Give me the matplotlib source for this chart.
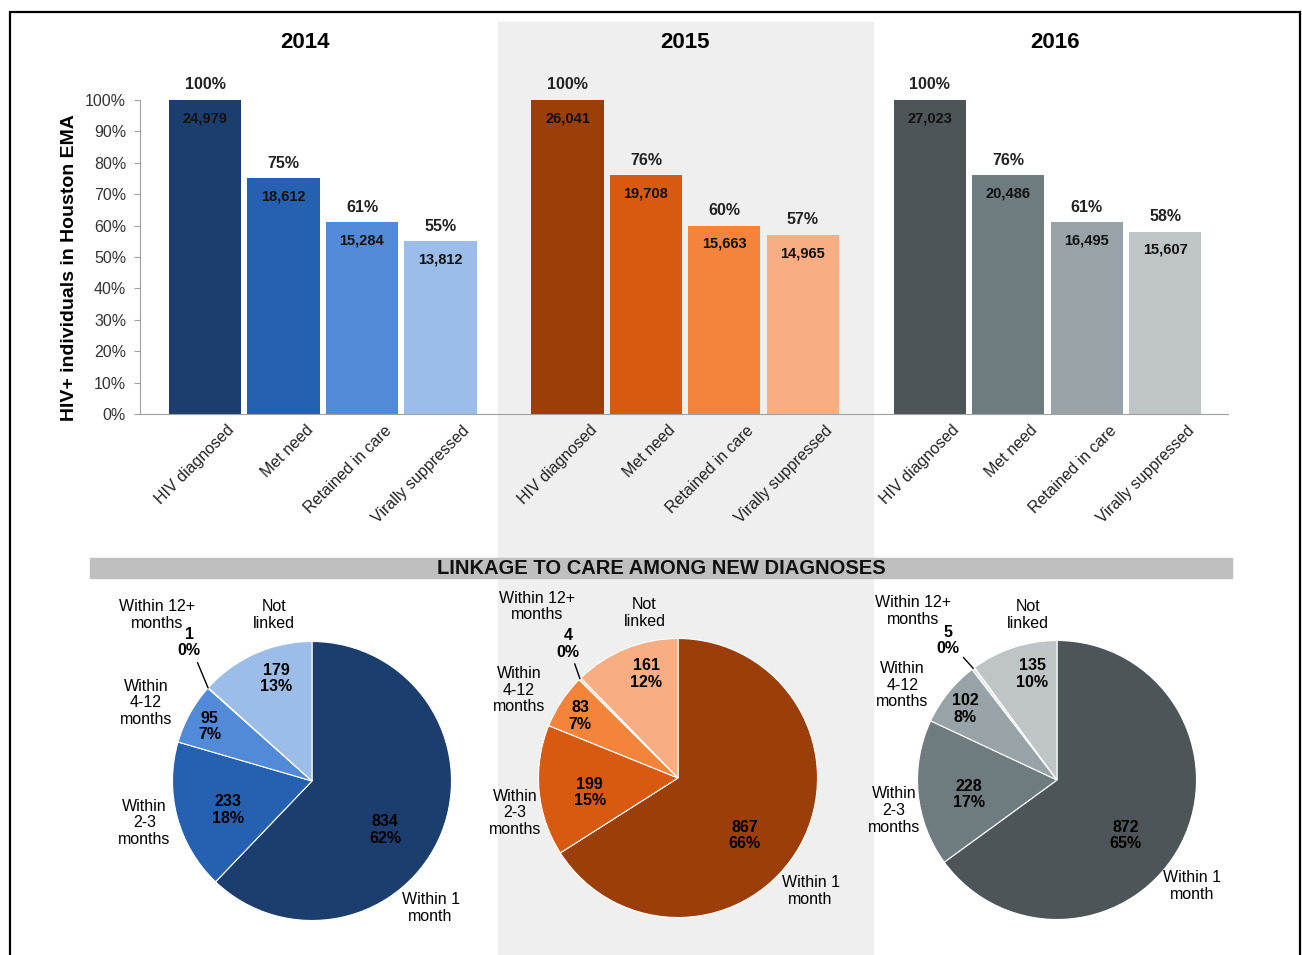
import numpy as np
import matplotlib
matplotlib.use("Agg")
import matplotlib.pyplot as plt
from matplotlib.patches import Rectangle
import matplotlib.transforms as mtransforms

plt.rcParams['font.family'] = ['Liberation Sans', 'DejaVu Sans']

# ---- data ----
years = ["2014", "2015", "2016"]
stages = ["HIV diagnosed", "Met need", "Retained in care", "Virally suppressed"]
pct_2014 = [100, 75, 61, 55]
pct_2015 = [100, 76, 60, 57]
pct_2016 = [100, 76, 61, 58]
n_2014 = [24979, 18612, 15284, 13812]
n_2015 = [26041, 19708, 15663, 14965]
n_2016 = [27023, 20486, 16495, 15607]

link_cats = ["Within 1\nmonth", "Within\n2-3\nmonths", "Within\n4-12\nmonths",
             "Within 12+\nmonths", "Not\nlinked"]
link_2014 = [834, 233, 95, 1, 179]
link_2015 = [867, 199, 83, 4, 161]
link_2016 = [872, 228, 102, 5, 135]
linkpct_2014 = [62, 18, 7, 0, 13]
linkpct_2015 = [66, 15, 7, 0, 12]
linkpct_2016 = [65, 17, 8, 0, 10]

bar_colors = [["#1b3e6f", "#2561b0", "#518bd8", "#9dbde9"],
              ["#9c3e0a", "#d75a10", "#f4843c", "#f8ae82"],
              ["#4d5558", "#6e7c80", "#97a3a6", "#bfc5c7"]]
pie_colors = [["#1b3e6f", "#2561b0", "#518bd8", "#d6e3f5", "#9dbde9"],
              ["#9c3e0a", "#d75a10", "#f4843c", "#fbd9c3", "#f8ae82"],
              ["#4d5558", "#6e7c80", "#97a3a6", "#e2e6e7", "#bfc5c7"]]

pcts = [pct_2014, pct_2015, pct_2016]
counts = [n_2014, n_2015, n_2016]
links = [link_2014, link_2015, link_2016]
linkpcts = [linkpct_2014, linkpct_2015, linkpct_2016]

W, H = 1302, 955
fig = plt.figure(figsize=(W / 100, H / 100), dpi=100)

def fx(px):
    return px / W

def fy(py):
    return 1 - py / H

# background pieces
fig.patches.append(Rectangle((fx(498), fy(960)), fx(873) - fx(498), fy(22) - fy(960),
                             transform=fig.transFigure, color="#efefef", zorder=-10))
fig.patches.append(Rectangle((fx(10), fy(965)), fx(1300) - fx(10), fy(12) - fy(965),
                             transform=fig.transFigure, fill=False, ec="black", lw=1.6, zorder=-9))
fig.patches.append(Rectangle((fx(90), fy(578)), fx(1232) - fx(90), fy(558) - fy(578),
                             transform=fig.transFigure, color="#bfbfbf", zorder=-8))
fig.text(fx(661), fy(568), "LINKAGE TO CARE AMONG NEW DIAGNOSES", ha="center", va="center",
         fontsize=14.5, fontweight="bold", color="#111111", zorder=5)

# ---- bar chart ----
ax = fig.add_axes([fx(140), fy(414), fx(1228) - fx(140), fy(100) - fy(414)])
ax.set_zorder(2)
ax.patch.set_alpha(0)
gap = 4.62
offset = mtransforms.ScaledTranslation(0.27, -0.14, fig.dpi_scale_trans)
xs_all = []
for g in range(3):
    xs = [g * gap + i for i in range(4)]
    h = [p / 100 for p in pcts[g]]
    bars = ax.bar(xs, h, width=0.92, color=bar_colors[g], zorder=2)
    for b, p, n in zip(bars, pcts[g], counts[g]):
        cx = b.get_x() + b.get_width() / 2
        ax.annotate(f"{p}%", (cx, b.get_height()), xytext=(0, 11), textcoords="offset points",
                    ha="center", va="center", fontsize=11.5, fontweight="bold",
                    color="#222222", annotation_clip=False)
        ax.annotate(f"{n:,}", (cx, b.get_height()), xytext=(0, -13), textcoords="offset points",
                    ha="center", va="center", fontsize=10.5, fontweight="bold", color="#111111")
    for x, lab in zip(xs, stages):
        ax.text(x, 0, lab, rotation=45, ha="right", va="center", rotation_mode="anchor",
                fontsize=11.5, color="#222222",
                transform=ax.get_xaxis_transform() + offset, clip_on=False)
    xs_all += xs
    fig.text(fx([305, 685, 1055][g]), fy(42), years[g], ha="center", va="center",
             fontsize=16, fontweight="bold")

ax.set_xlim(-0.83, 2 * gap + 3 + 0.8)
ax.set_ylim(0, 1)
ax.set_yticks(np.arange(0, 1.01, 0.1))
ax.set_yticklabels([f"{int(round(v * 100))}%" for v in np.arange(0, 1.01, 0.1)], fontsize=11.5,
                   color="#333333")
ax.set_xticks(xs_all)
ax.set_xticklabels([])
ax.tick_params(axis="x", length=0)
ax.tick_params(axis="y", length=4, color="#a0a0a0", pad=6)
for s in ["top", "right"]:
    ax.spines[s].set_visible(False)
for s in ["left", "bottom"]:
    ax.spines[s].set_color("#a0a0a0")
ax.set_ylabel("HIV+ individuals in Houston EMA", fontsize=14, fontweight="bold")
ax.yaxis.set_label_coords((78 - 140) / 1088, (414 - 268) / 314)

# ---- pies ----
centers = [(312, 781), (678, 778), (1057, 780)]
R = 139.5
L = 1.45
in_r = [0.63, 0.64, 0.83, None, 0.78]
in_nudge = [-12, 4, 1, 0, -5]
# outside label layout (in pie radii), one row per pie
out_pos = [[(0.85, -0.91), (-1.20, -0.30), (-1.19, 0.56), (-1.11, 1.19), (-0.27, 1.19)],
           [(0.95, -0.81), (-1.17, -0.25), (-1.14, 0.63), (-1.01, 1.23), (-0.24, 1.18)],
           [(0.97, -0.76), (-1.17, -0.22), (-1.11, 0.68), (-1.03, 1.21), (-0.21, 1.18)]]
small_pos = [(-0.88, 0.99), (-0.79, 0.96), (-0.78, 1.0)]

for g in range(3):
    cx, cy = centers[g]
    s = 2 * L * R
    pax = fig.add_axes([fx(cx - s / 2), fy(cy + s / 2), s / W, s / H])
    pax.set_zorder(2)
    pax.patch.set_alpha(0)
    vals = links[g]
    wedges, _ = pax.pie(vals, colors=pie_colors[g], startangle=90, counterclock=False,
                        radius=1, wedgeprops=dict(edgecolor="white", linewidth=0.8))
    pax.set_xlim(-L, L)
    pax.set_ylim(-L, L)
    pax.set_aspect("equal")
    pax.axis("off")
    for k, w in enumerate(wedges):
        mid = np.deg2rad((w.theta1 + w.theta2) / 2)
        txt = f"{vals[k]}\n{linkpcts[g][k]}%"
        if in_r[k] is None:
            pax.annotate(txt, xy=(np.cos(mid), np.sin(mid)), xytext=small_pos[g],
                         ha="center", va="center", fontsize=11.5, fontweight="bold",
                         linespacing=1.1,
                         arrowprops=dict(arrowstyle="-", color="black", lw=1,
                                         shrinkA=1, shrinkB=0))
        else:
            a = mid + np.deg2rad(in_nudge[k])
            pax.text(in_r[k] * np.cos(a), in_r[k] * np.sin(a), txt, ha="center", va="center",
                     fontsize=11.5, fontweight="bold", linespacing=1.1)
        ox, oy = out_pos[g][k]
        pax.text(ox, oy, link_cats[k], ha="center", va="center", fontsize=11.5,
                 linespacing=1.15)

fig.savefig("out.png", dpi=100)
